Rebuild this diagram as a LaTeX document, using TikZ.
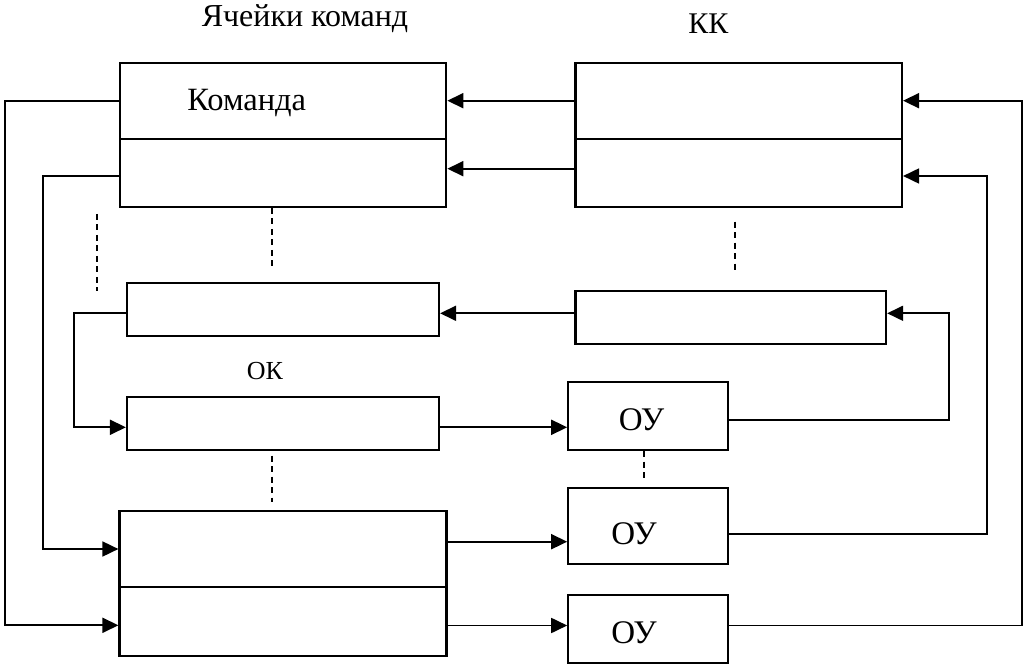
\documentclass[tikz,border=0pt]{standalone}
\usepackage{fontspec}
\setmainfont{Liberation Serif}
\usetikzlibrary{arrows.meta}

\tikzset{
  blk/.style={draw, line width=2.2pt, inner sep=0pt, minimum width=#1},
  blk/.default=326.5pt,
  wire/.style={line width=1.8pt},
  arr/.style={wire, -{Triangle[length=16pt,width=15pt]}},
  dots/.style={line width=1.8pt, dash pattern=on 6pt off 4.5pt},
  lbl/.style={inner sep=0pt, anchor=base},
}

\begin{document}
\begin{tikzpicture}[x=1pt, y=-1pt]
\useasboundingbox (0,0) rectangle (1025,668);

% headings
\node[lbl, font=\fontsize{32}{36}\selectfont] (hcells) at (305,26.7) {Ячейки команд};
\node[lbl, font=\fontsize{30}{36}\selectfont] (hkk) at (708.3,33.3) {КК};

% command cells (top)
\node[blk, minimum height=76pt] (cmdA) at (283,100.7) {};
\node[blk, minimum height=68pt] (cmdB) at (283,172.7) {};
\node[lbl, font=\fontsize{32.5}{36}\selectfont] (tcmd) at (246.7,110.7) {Команда};

% КК column (top)
\node[blk, minimum height=76pt] (kkA) at (738.7,100.7) {};
\node[blk, minimum height=68pt] (kkB) at (738.7,172.7) {};

% middle row
\node[blk=312pt, minimum height=53pt] (cmdN) at (283,309.6) {};
\node[blk=310.5pt, minimum height=53pt] (kkN) at (730.8,317.3) {};

% ОК register
\node[lbl, font=\fontsize{26}{30}\selectfont] (tok) at (265,379.3) {ОК};
\node[blk=312pt, minimum height=53pt] (ok) at (283,423.8) {};

% bottom cells
\node[blk=327pt, minimum height=75.7pt] (exA) at (283,549) {};
\node[blk=327pt, minimum height=69pt] (exB) at (283,621.3) {};

% operating units
\node[blk=160pt, minimum height=68pt] (ou1) at (648.3,416) {};
\node[blk=160pt, minimum height=76pt] (ou2) at (648.3,526.3) {};
\node[blk=160pt, minimum height=68.3pt] (ou3) at (648.3,629.2) {};
\node[lbl, font=\fontsize{33}{38}\selectfont] (tou1) at (641.5,430.7) {ОУ};
\node[lbl, font=\fontsize{33}{38}\selectfont] (tou2) at (634,544) {ОУ};
\node[lbl, font=\fontsize{33}{38}\selectfont] (tou3) at (634,643.3) {ОУ};

% routing points
\coordinate (b1) at (5,625.3);
\coordinate (b2) at (43.3,549);
\coordinate (b3) at (73.7,427.3);
\coordinate (h5) at (0,313.3);
\coordinate (h9) at (0,541.7);
\coordinate (h11) at (0,625.5);
\coordinate (r1) at (948.7,313.3);
\coordinate (r2) at (986.7,176);
\coordinate (r3) at (1021.7,100.7);

% left return lines
\draw[arr] (cmdA.west) -| (b1) -- (b1 -| exB.west);
\draw[arr] ([yshift=-3.3pt]cmdB.west) -| (b2) -- (b2 -| exA.west);

% КК -> command cells
\draw[arr] (kkA.west) -- (cmdA.east);
\draw[arr] ([yshift=4pt]kkB.west) -- ([yshift=4pt]cmdB.east);
\draw[arr] (kkN.west |- h5) -- (cmdN.east |- h5);

% command cell -> ОК
\draw[arr] (cmdN.west |- h5) -| (b3) -- (b3 -| ok.west);

% to the operating units
\draw[arr] (ok.east |- b3) -- (ou1.west |- b3);
\draw[arr] (exA.east |- h9) -- (ou2.west |- h9);
\draw[arr] (exB.east |- h11) -- (ou3.west |- h11);

% operating units -> КК
\draw[arr] ([yshift=-4pt]ou1.east) -| (r1) -- (r1 -| kkN.east);
\draw[arr] ([yshift=-7.4pt]ou2.east) -| (r2) -- (r2 -| kkB.east);
\draw[arr] (ou3.east |- h11) -| (r3) -- (r3 -| kkA.east);

% ellipsis marks
\coordinate (d1a) at (96.7,214);   \coordinate (d1b) at (96.7,291);
\coordinate (d2a) at (271.7,208);  \coordinate (d2b) at (271.7,270);
\coordinate (d3a) at (734.7,221.7);\coordinate (d3b) at (734.7,270);
\coordinate (d4a) at (271.7,455.5);\coordinate (d4b) at (271.7,502);
\coordinate (d5a) at (644.3,451);  \coordinate (d5b) at (644.3,481.7);
\draw[dots] (d1a) -- (d1b);
\draw[dots] (d2a) -- (d2b);
\draw[dots] (d3a) -- (d3b);
\draw[dots] (d4a) -- (d4b);
\draw[dots] (d5a) -- (d5b);
\end{tikzpicture}
\end{document}
